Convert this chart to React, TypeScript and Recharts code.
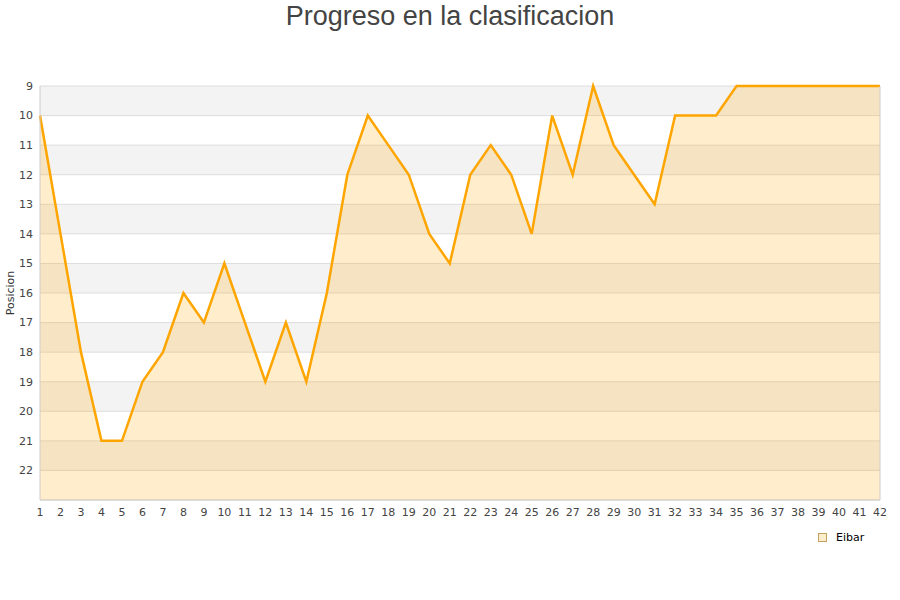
import React from 'react';
import { AreaChart, Area, XAxis, YAxis, CartesianGrid, ReferenceLine } from 'recharts';

const rounds = [1,2,3,4,5,6,7,8,9,10,11,12,13,14,15,16,17,18,19,20,21,22,23,24,25,26,27,28,29,30,31,32,33,34,35,36,37,38,39,40,41,42];
const positions = [10,14,18,21,21,19,18,16,17,15,17,19,17,19,16,12,10,11,12,14,15,12,11,12,14,10,12,9,11,12,13,10,10,10,9,9,9,9,9,9,9,9];
const yTicks = [9,10,11,12,13,14,15,16,17,18,19,20,21,22];
const teamName = 'Eibar';
const title = 'Progreso en la clasificacion';
const yLabel = 'Posicion';

const data = rounds.map((r, i) => ({ round: r, pos: positions[i] }));

const tickStyle = { fontFamily: 'DejaVu Sans', fontSize: 11, fill: '#444' };

const YLabel = (props: any) => {
  const vb = props.viewBox || { x: 10, y: 86, width: 30, height: 414 };
  const cy = vb.y + vb.height / 2;
  return (
    <text x={14} y={cy} transform={`rotate(-90 14 ${cy})`} textAnchor="middle"
      style={{ fontFamily: 'DejaVu Sans', fontSize: 11, fill: '#333' }}>{yLabel}</text>
  );
};

export default function App() {
  return (
    <div style={{ position: 'absolute', left: 0, top: 0, width: 900, height: 600, background: '#fff' }}>
      <div style={{ position: 'absolute', left: 0, top: 0, width: 900, textAlign: 'center', fontFamily: 'Liberation Sans', fontSize: 27, lineHeight: '32px', color: '#444' }}>
        {title}
      </div>
      <AreaChart width={900} height={600} data={data} margin={{ top: 86, right: 20, bottom: 70, left: 10 }}>
        <CartesianGrid vertical={false} stroke="#dddddd" horizontalFill={['#f3f3f3', '#ffffff']} fillOpacity={1} />
        <XAxis dataKey="round" type="number" domain={[1, 42]} ticks={rounds} interval={0}
          tickLine={false} axisLine={{ stroke: '#cccccc' }} tick={tickStyle} height={30} tickMargin={2} allowDecimals={false} />
        <YAxis type="number" domain={[9, 23]} reversed ticks={yTicks} interval={0} width={30}
          tickLine={false} axisLine={{ stroke: '#cccccc' }} tick={tickStyle} tickMargin={1} label={<YLabel />} />
        <ReferenceLine x={42} stroke="#cccccc" />
        <Area type="linear" dataKey="pos" stroke="#ffa500" strokeWidth={2.5} fill="#ffa500" fillOpacity={0.2}
          baseValue={23} dot={false} activeDot={false} isAnimationActive={false} />
      </AreaChart>
      <div style={{ position: 'absolute', left: 818, top: 531, display: 'flex', alignItems: 'center', fontFamily: 'DejaVu Sans', fontSize: 11, color: '#000' }}>
        <span style={{ display: 'inline-block', width: 7, height: 7, border: '1px solid #c8a060', background: '#ffeecc', marginRight: 9 }} />
        <span>{teamName}</span>
      </div>
    </div>
  );
}
